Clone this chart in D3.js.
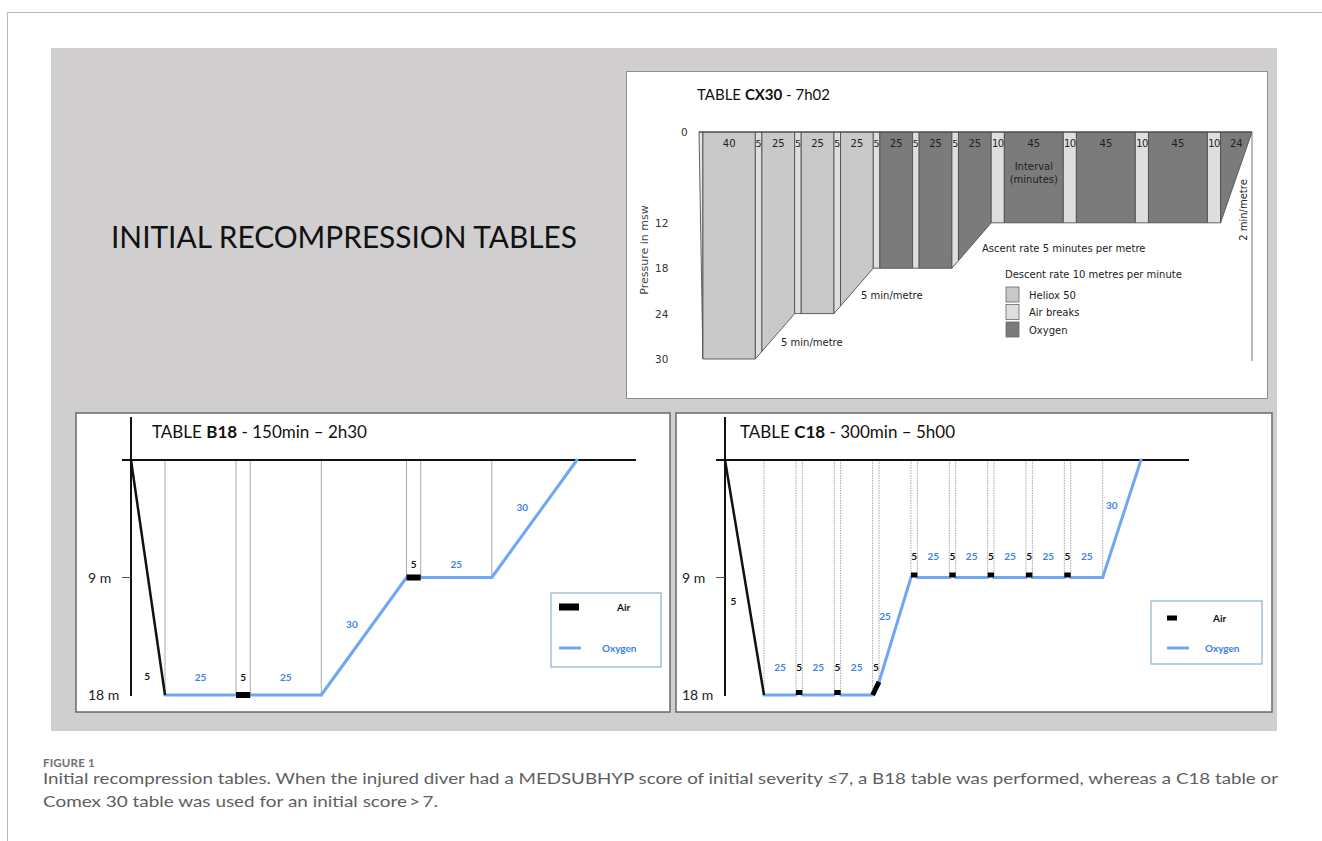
<!DOCTYPE html>
<html><head><meta charset="utf-8">
<script src="https://cdn.jsdelivr.net/npm/d3@7"></script>
<style>body{margin:0;background:#fff}svg{display:block}</style>
</head><body>
<svg id="c" width="1322" height="841"></svg>
<script>
// ---------------- DATA ----------------
// Table CX30 (Comex 30): block durations (minutes) and gas of each block
const cx30Durations = [3, 40, 5, 25, 5, 25, 5, 25, 5, 25, 5, 25, 5, 25, 10, 45, 10, 45, 10, 45, 10, 24];
const cx30Gases = ["descent", "heliox", "air", "heliox", "air", "heliox", "air", "heliox",
  "air", "oxygen", "air", "oxygen", "air", "oxygen",
  "air", "oxygen", "air", "oxygen", "air", "oxygen", "air", "oxygen"];
// depth profile (time in minutes, depth in msw)
const cx30ProfileTimes = [0, 3, 43, 73, 103, 133, 193, 223, 398, 422];
const cx30ProfileDepths = [0, 30, 30, 24, 24, 18, 18, 12, 12, 0];
const cx30DepthTicks = [0, 12, 18, 24, 30];
const cx30LegendNames = ["Heliox 50", "Air breaks", "Oxygen"];
const cx30LegendGases = ["heliox", "air", "oxygen"];

// Table B18
const b18Durations = [5, 25, 5, 25, 30, 5, 25, 30];
const b18Gases = ["descent", "oxygen", "air", "oxygen", "oxygen", "air", "oxygen", "oxygen"];
const b18EndDepths = [18, 18, 18, 18, 9, 9, 9, 0];

// Table C18
const c18Durations = [5, 25, 5, 25, 5, 25, 5, 25, 5, 25, 5, 25, 5, 25, 5, 25, 5, 25, 30];
const c18Gases = ["descent", "oxygen", "air", "oxygen", "air", "oxygen", "air", "oxygen",
  "air", "oxygen", "air", "oxygen", "air", "oxygen", "air", "oxygen", "air", "oxygen", "oxygen"];
const c18EndDepths = [18, 18, 18, 18, 18, 18, 17, 9, 9, 9, 9, 9, 9, 9, 9, 9, 9, 9, 0];

const bcDepthTicks = [9, 18];
const bcLegendNames = ["Air", "Oxygen"];

// ---------------- STYLE ----------------
const GREY = {heliox: "#c9c9c9", air: "#dedede", oxygen: "#7b7b7b", descent: "#e4e4e4"};
const BLUE = "#6ea8f4", BLUE_TXT = "#3d82ea";
const CAL = "Lato, 'Open Sans', sans-serif";
const DJ = "'DejaVu Sans', sans-serif";

const svg = d3.select("#c");

// frame + grey background
svg.append("path").attr("d", "M7.5,841 V12.5 H1322").attr("fill", "none").attr("stroke", "#b8b8b8");
svg.append("rect").attr("x", 51).attr("y", 48).attr("width", 1226).attr("height", 683).attr("fill", "#d0cecf");

svg.append("text").attr("x", 111).attr("y", 248).attr("font-family", CAL).attr("font-size", 31)
  .attr("textLength", 466).attr("lengthAdjust", "spacingAndGlyphs").attr("fill", "#111")
  .text("INITIAL RECOMPRESSION TABLES");

// ---------------- CX30 ----------------
(function () {
  const g = svg.append("g");
  g.append("rect").attr("x", 626.5).attr("y", 71.5).attr("width", 641).attr("height", 327)
    .attr("fill", "#fff").attr("stroke", "#8e8e8e");
  const total = d3.sum(cx30Durations);
  const x = d3.scaleLinear().domain([0, total]).range([699, 1252]);
  const y = d3.scaleLinear().domain([0, 30]).range([132, 359]);
  const depthAt = d3.scaleLinear().domain(cx30ProfileTimes).range(cx30ProfileDepths);
  const line = d3.line().x(d => x(d[0])).y(d => y(d[1]));
  const starts = d3.cumsum([0].concat(cx30Durations.slice(0, -1)));
  const blocks = cx30Durations.map((d, i) => ({dur: d, gas: cx30Gases[i], ts: starts[i], te: starts[i] + d}));
  blocks.forEach(b => {
    const inner = cx30ProfileTimes.filter(t => t > b.ts && t < b.te).reverse().map(t => [t, depthAt(t)]);
    b.pts = [[b.ts, 0], [b.te, 0], [b.te, depthAt(b.te)], ...inner, [b.ts, depthAt(b.ts)]];
  });
  g.selectAll("path.blk").data(blocks).join("path").attr("class", "blk")
    .attr("d", b => line(b.pts) + "Z").attr("fill", b => GREY[b.gas])
    .attr("stroke", "#505050").attr("stroke-width", 0.9);
  g.append("line").attr("x1", x(0)).attr("x2", x(total)).attr("y1", y(0)).attr("y2", y(0))
    .attr("stroke", "#444").attr("stroke-width", 1);
  g.selectAll("text.bl").data(blocks.filter(b => b.gas !== "descent")).join("text").attr("class", "bl")
    .attr("x", b => x((b.ts + b.te) / 2)).attr("y", y(0) + 15).attr("text-anchor", "middle")
    .attr("font-family", DJ).attr("font-size", b => b.dur < 10 ? 9.5 : 10).attr("fill", "#222")
    .attr("letter-spacing", b => b.dur === 10 ? -0.6 : 0)
    .text(b => b.dur);
  // right boundary line
  g.append("line").attr("x1", x(total)).attr("x2", x(total)).attr("y1", y(0)).attr("y2", y(30) + 2)
    .attr("stroke", "#777");
  // y ticks
  g.selectAll("text.tk").data(cx30DepthTicks).join("text").attr("class", "tk")
    .attr("x", d => d === 0 ? 681 : 655).attr("y", d => y(d) + 4)
    .attr("font-family", DJ).attr("font-size", 10.5).attr("fill", "#333").text(d => d);
  g.append("text").attr("transform", "translate(648,250) rotate(-90)").attr("text-anchor", "middle")
    .attr("font-family", DJ).attr("font-size", 11).attr("fill", "#444").text("Pressure in msw");
  g.append("text").attr("x", 697).attr("y", 100).attr("font-family", CAL).attr("font-size", 15).attr("fill", "#111")
    .call(t => {
      t.append("tspan").text("TABLE ");
      t.append("tspan").attr("font-weight", "bold").text("CX30");
      t.append("tspan").text(" - 7h02");
    });
  const interval = blocks[15];
  g.append("text").attr("x", x((interval.ts + interval.te) / 2)).attr("y", 170).attr("text-anchor", "middle")
    .attr("font-family", DJ).attr("font-size", 10).attr("fill", "#222")
    .call(t => {
      t.append("tspan").text("Interval");
      t.append("tspan").attr("x", x((interval.ts + interval.te) / 2)).attr("dy", 13).text("(minutes)");
    });
  const ann = [
    [781, 346, "5 min/metre"], [861, 299, "5 min/metre"],
    [982, 252, "Ascent rate 5 minutes per metre"], [1005, 278, "Descent rate 10 metres per minute"]
  ];
  g.selectAll("text.an").data(ann).join("text").attr("class", "an")
    .attr("x", d => d[0]).attr("y", d => d[1]).attr("font-family", DJ).attr("font-size", 10)
    .attr("fill", "#222").text(d => d[2]);
  g.append("text").attr("transform", "translate(1247,210) rotate(-90)").attr("text-anchor", "middle")
    .attr("font-family", DJ).attr("font-size", 10).attr("fill", "#222").text("2 min/metre");
  const lg = g.selectAll("g.lg").data(cx30LegendNames).join("g").attr("class", "lg")
    .attr("transform", (d, i) => `translate(1006,${287 + i * 17.5})`);
  lg.append("rect").attr("width", 13).attr("height", 15).attr("fill", (d, i) => GREY[cx30LegendGases[i]])
    .attr("stroke", "#666").attr("stroke-width", 0.8);
  lg.append("text").attr("x", 23).attr("y", 11.5).attr("font-family", DJ).attr("font-size", 10)
    .attr("fill", "#222").text(d => d);
})();

// ---------------- B18 / C18 ----------------
function drawTable(cfg) {
  const g = svg.append("g");
  g.append("rect").attr("x", cfg.box[0]).attr("y", cfg.box[1]).attr("width", cfg.box[2]).attr("height", cfg.box[3])
    .attr("fill", "#fff").attr("stroke", "#6a6a6a").attr("stroke-width", 1.5);
  const total = d3.sum(cfg.durations);
  const descent = cfg.durations[0];
  const x = d3.scaleLinear().domain([0, descent, total])
    .range([cfg.x0, cfg.x0 + cfg.descentW, cfg.x1]);
  const y = d3.scaleLinear().domain([0, 18]).range([460, 695]);
  const starts = d3.cumsum([0].concat(cfg.durations.slice(0, -1)));
  const segs = cfg.durations.map((d, i) => ({
    dur: d, gas: cfg.gases[i], ts: starts[i], te: starts[i] + d,
    d0: i === 0 ? 0 : cfg.endDepths[i - 1], d1: cfg.endDepths[i]
  }));
  // guide lines at every boundary between descent end and final ascent start
  const bounds = segs.slice(1).map(s => ({t: s.ts, d: s.d0}));
  g.selectAll("line.gd").data(bounds).join("line").attr("class", "gd")
    .attr("x1", b => x(b.t)).attr("x2", b => x(b.t)).attr("y1", y(0)).attr("y2", b => y(b.d))
    .attr("stroke", "#a9a9a9").attr("stroke-width", 1).attr("stroke-dasharray", cfg.dash);
  // axes
  g.append("line").attr("x1", cfg.x0).attr("x2", cfg.x0).attr("y1", 417).attr("y2", 696)
    .attr("stroke", "#111").attr("stroke-width", 2);
  g.append("line").attr("x1", cfg.x0 - 9).attr("x2", cfg.topEnd).attr("y1", y(0)).attr("y2", y(0))
    .attr("stroke", "#111").attr("stroke-width", 2);
  g.append("line").attr("x1", cfg.x0 - 9).attr("x2", cfg.x0).attr("y1", y(9)).attr("y2", y(9))
    .attr("stroke", "#555").attr("stroke-width", 1);
  g.selectAll("text.tk").data(bcDepthTicks).join("text").attr("class", "tk")
    .attr("x", cfg.x0 - 43).attr("y", d => y(d) + 5).attr("font-family", CAL).attr("font-size", 14)
    .attr("fill", "#222").text(d => d + " m");
  // profile
  const line = d3.line().x(d => x(d[0])).y(d => y(d[1]));
  g.selectAll("path.ox").data(segs.filter(s => s.gas === "oxygen")).join("path").attr("class", "ox")
    .attr("d", s => line([[s.ts, s.d0], [s.te, s.d1]])).attr("stroke", BLUE).attr("stroke-width", 3)
    .attr("fill", "none").attr("stroke-linecap", "round");
  g.selectAll("path.ds").data(segs.filter(s => s.gas === "descent")).join("path").attr("class", "ds")
    .attr("d", s => line([[s.ts, s.d0], [s.te, s.d1]])).attr("stroke", "#111").attr("stroke-width", 2.5)
    .attr("fill", "none");
  g.selectAll("rect.air").data(segs.filter(s => s.gas === "air" && s.d0 === s.d1)).join("rect").attr("class", "air")
    .attr("x", s => x(s.ts)).attr("width", s => x(s.te) - x(s.ts))
    .attr("y", s => y(s.d0) + cfg.airTop).attr("height", cfg.airH).attr("fill", "#000");
  g.selectAll("path.airs").data(segs.filter(s => s.gas === "air" && s.d0 !== s.d1)).join("path").attr("class", "airs")
    .attr("d", s => line([[s.ts, s.d0], [s.te, s.d1]])).attr("stroke", "#000").attr("stroke-width", 5)
    .attr("fill", "none");
  // labels
  g.selectAll("text.sl").data(segs).join("text").attr("class", "sl")
    .attr("x", s => {
      if (s.gas === "descent") return x(s.ts + (s.te - s.ts) * cfg.descLbl) - 15;
      if (s.d0 === s.d1 || s.gas === "air") return x((s.ts + s.te) / 2);
      return x((s.ts + s.te) / 2) - cfg.ascLbl[0];
    })
    .attr("y", s => {
      if (s.gas === "descent") return y(s.d1 * cfg.descLbl) + 4;
      if (s.d0 === s.d1 || s.gas === "air") return y(s.d0) - cfg.lblOff[s.d0 === 18 ? 0 : 1] + 4;
      return y((s.d0 + s.d1) / 2) - cfg.ascLbl[1] + 4;
    })
    .attr("text-anchor", "middle").attr("font-family", CAL).attr("font-size", 10).attr("font-weight", "bold")
    .attr("fill", s => s.gas === "oxygen" ? BLUE_TXT : "#111").text(s => s.dur);
  // title
  g.append("text").attr("x", cfg.titleX).attr("y", 438).attr("font-family", CAL).attr("font-size", 17).attr("fill", "#111")
    .call(t => {
      t.append("tspan").text("TABLE ");
      t.append("tspan").attr("font-weight", "bold").text(cfg.name);
      t.append("tspan").text(cfg.sub);
    });
  // legend
  const L = cfg.legend;
  g.append("rect").attr("x", L.x).attr("y", L.y).attr("width", L.w).attr("height", L.h)
    .attr("fill", "#fff").attr("stroke", "#8eaed3").attr("stroke-width", 1.2);
  g.append("rect").attr("x", L.x + L.sx).attr("y", L.y + L.r1 - L.ah / 2).attr("width", L.aw).attr("height", L.ah).attr("fill", "#000");
  g.append("line").attr("x1", L.x + L.sx).attr("x2", L.x + L.sx + L.lw).attr("y1", L.y + L.r2).attr("y2", L.y + L.r2)
    .attr("stroke", BLUE).attr("stroke-width", 3);
  g.selectAll("text.lg").data(bcLegendNames).join("text").attr("class", "lg")
    .attr("x", (d, i) => L.x + L.tx[i]).attr("y", (d, i) => L.y + (i ? L.r2 : L.r1) + 4)
    .attr("font-family", CAL).attr("font-size", 10).attr("font-weight", "bold")
    .attr("fill", (d, i) => i ? BLUE_TXT : "#111").text(d => d);
}

drawTable({
  durations: b18Durations, gases: b18Gases, endDepths: b18EndDepths,
  box: [76, 413, 594, 299], x0: 131, x1: 577, descentW: 34, topEnd: 636, dash: null,
  airTop: -3, airH: 6, lblOff: [18, 14], descLbl: 0.92, ascLbl: [12, 12],
  name: "B18", sub: " - 150min \u2013 2h30", titleX: 152,
  legend: {x: 551, y: 593, w: 110, h: 74, sx: 8, aw: 20, ah: 7, lw: 22, r1: 14, r2: 55, tx: [66, 51]}
});
drawTable({
  durations: c18Durations, gases: c18Gases, endDepths: c18EndDepths,
  box: [676, 413, 596, 299], x0: 725, x1: 1141, descentW: 39, topEnd: 1189, dash: "1.5,1",
  airTop: -5, airH: 5, lblOff: [28, 22], descLbl: 0.6, ascLbl: [10, 14],
  name: "C18", sub: " - 300min \u2013 5h00", titleX: 740,
  legend: {x: 1151, y: 601, w: 111, h: 63, sx: 16, aw: 10, ah: 5, lw: 22, r1: 17, r2: 47, tx: [62, 54]}
});

// ---------------- caption ----------------
svg.append("text").attr("x", 43).attr("y", 767).attr("font-family", CAL).attr("font-size", 11.5)
  .attr("font-weight", "bold").attr("fill", "#707070").attr("letter-spacing", 0.2).text("FIGURE 1");
svg.append("text").attr("x", 43).attr("y", 784).attr("font-family", CAL).attr("font-size", 16)
  .attr("fill", "#5e5e5e").attr("textLength", 1235).attr("lengthAdjust", "spacingAndGlyphs")
  .text("Initial recompression tables. When the injured diver had a MEDSUBHYP score of initial severity \u22647, a B18 table was performed, whereas a C18 table or");
svg.append("text").attr("x", 43).attr("y", 807).attr("font-family", CAL).attr("font-size", 16)
  .attr("fill", "#5e5e5e").attr("textLength", 395).attr("lengthAdjust", "spacingAndGlyphs")
  .text("Comex 30 table was used for an initial score\u2009>\u20097.");
</script>
</body></html>
